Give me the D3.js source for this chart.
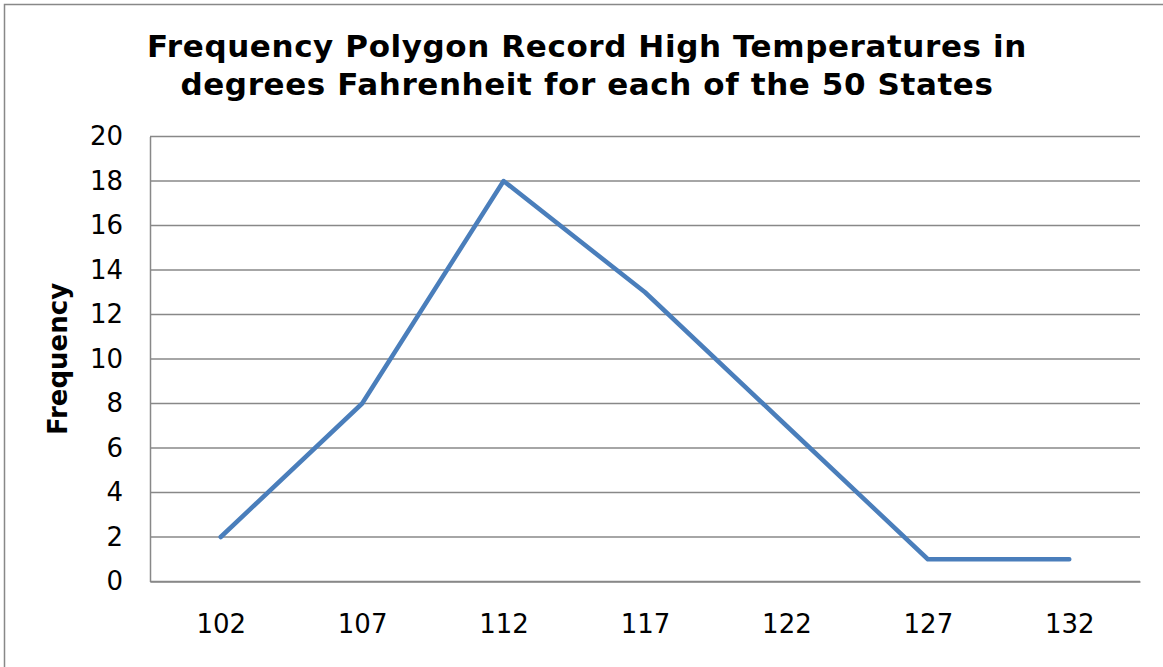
<!DOCTYPE html>
<html>
<head>
<meta charset="utf-8">
<script src="https://cdn.jsdelivr.net/npm/d3@7"></script>
<style>
  html, body { margin: 0; padding: 0; background: #fff; }
  svg { display: block; font-family: "DejaVu Sans", Verdana, sans-serif; }
</style>
</head>
<body>
<svg id="chart" width="1163" height="667"></svg>
<script>
// chart data
const temps = ['102', '107', '112', '117', '122', '127', '132'];
const frequency = [2, 8, 18, 13, 7, 1, 1];
const yTicks = [0, 2, 4, 6, 8, 10, 12, 14, 16, 18, 20];
const titleLines = ['Frequency Polygon Record High Temperatures in', 'degrees Fahrenheit for each of the 50 States'];
const yLabel = 'Frequency';

const svg = d3.select('#chart');
const W = 1163, H = 667;
const plot = { left: 150, right: 1140, top: 136.5, bottom: 581.5 };
const gridColor = '#888888';

// outer chart border
svg.append('rect')
    .attr('x', 4.5).attr('y', 4.5)
    .attr('width', W + 10).attr('height', H + 10)
    .attr('fill', 'none')
    .attr('stroke', gridColor)
    .attr('stroke-width', 1.5);

const x = d3.scalePoint()
    .domain(temps)
    .range([plot.left, plot.right])
    .padding(0.5);

const y = d3.scaleLinear()
    .domain([0, 20])
    .range([plot.bottom, plot.top]);

// horizontal gridlines
svg.append('g')
    .selectAll('line')
    .data(yTicks)
    .join('line')
    .attr('x1', plot.left).attr('x2', plot.right)
    .attr('y1', d => y(d)).attr('y2', d => y(d))
    .attr('stroke', gridColor)
    .attr('stroke-width', 1.5);

// y axis
const yAxis = svg.append('g')
    .attr('transform', `translate(${plot.left},0)`)
    .call(d3.axisLeft(y).tickValues(yTicks).tickSize(0).tickPadding(27));
yAxis.select('.domain').attr('stroke', gridColor).attr('stroke-width', 1.5);
yAxis.selectAll('text')
    .attr('font-family', '"DejaVu Sans", Verdana, sans-serif')
    .attr('font-size', 26)
    .attr('fill', '#000');

// x axis
const xAxis = svg.append('g')
    .attr('transform', `translate(0,${plot.bottom})`)
    .call(d3.axisBottom(x).tickSize(0).tickPadding(33));
xAxis.select('.domain').attr('stroke', gridColor).attr('stroke-width', 1.5);
xAxis.selectAll('text')
    .attr('font-family', '"DejaVu Sans", Verdana, sans-serif')
    .attr('font-size', 26)
    .attr('fill', '#000');

// the polygon
const line = d3.line()
    .x((d, i) => x(temps[i]))
    .y(d => y(d));

svg.append('path')
    .datum(frequency)
    .attr('d', line)
    .attr('fill', 'none')
    .attr('stroke', '#4a7ebb')
    .attr('stroke-width', 4.5)
    .attr('stroke-linejoin', 'round')
    .attr('stroke-linecap', 'round');

// title
svg.append('text')
    .attr('text-anchor', 'middle')
    .attr('font-weight', 'bold')
    .attr('font-size', 31)
    .attr('letter-spacing', 0.6)
    .selectAll('tspan')
    .data(titleLines)
    .join('tspan')
    .attr('x', 587)
    .attr('y', (d, i) => 57 + i * 38)
    .text(d => d);

// y axis label
svg.append('text')
    .attr('text-anchor', 'middle')
    .attr('font-weight', 'bold')
    .attr('font-size', 26)
    .attr('transform', 'translate(67,359) rotate(-90)')
    .text(yLabel);
</script>
</body>
</html>
